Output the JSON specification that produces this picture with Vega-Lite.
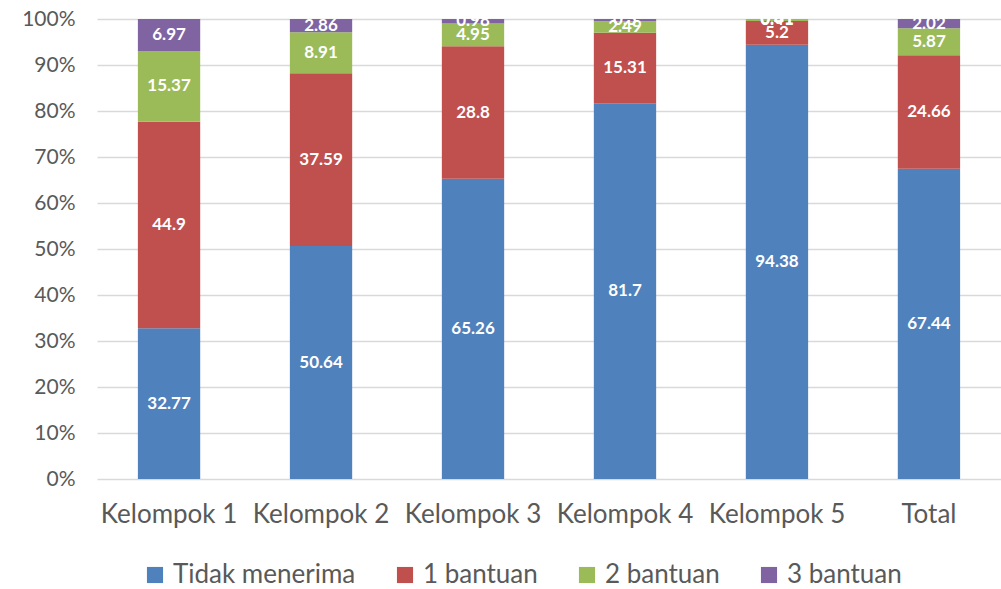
{
  "$schema": "https://vega.github.io/schema/vega-lite/v6.json",
  "autosize": "none",
  "width": 904,
  "height": 460,
  "padding": {"left": 97, "top": 19, "right": 0, "bottom": 110},
  "background": "white",
  "config": {"view": {"stroke": null}, "font": "Lato"},
  "data": {"values": [
    {"group": "Kelompok 1", "kat": "Tidak menerima", "ord": 1, "v": 32.77},
    {"group": "Kelompok 1", "kat": "1 bantuan", "ord": 2, "v": 44.9},
    {"group": "Kelompok 1", "kat": "2 bantuan", "ord": 3, "v": 15.37},
    {"group": "Kelompok 1", "kat": "3 bantuan", "ord": 4, "v": 6.97},
    {"group": "Kelompok 2", "kat": "Tidak menerima", "ord": 1, "v": 50.64},
    {"group": "Kelompok 2", "kat": "1 bantuan", "ord": 2, "v": 37.59},
    {"group": "Kelompok 2", "kat": "2 bantuan", "ord": 3, "v": 8.91},
    {"group": "Kelompok 2", "kat": "3 bantuan", "ord": 4, "v": 2.86},
    {"group": "Kelompok 3", "kat": "Tidak menerima", "ord": 1, "v": 65.26},
    {"group": "Kelompok 3", "kat": "1 bantuan", "ord": 2, "v": 28.8},
    {"group": "Kelompok 3", "kat": "2 bantuan", "ord": 3, "v": 4.95},
    {"group": "Kelompok 3", "kat": "3 bantuan", "ord": 4, "v": 0.98},
    {"group": "Kelompok 4", "kat": "Tidak menerima", "ord": 1, "v": 81.7},
    {"group": "Kelompok 4", "kat": "1 bantuan", "ord": 2, "v": 15.31},
    {"group": "Kelompok 4", "kat": "2 bantuan", "ord": 3, "v": 2.49},
    {"group": "Kelompok 4", "kat": "3 bantuan", "ord": 4, "v": 0.5},
    {"group": "Kelompok 5", "kat": "Tidak menerima", "ord": 1, "v": 94.38},
    {"group": "Kelompok 5", "kat": "1 bantuan", "ord": 2, "v": 5.2},
    {"group": "Kelompok 5", "kat": "2 bantuan", "ord": 3, "v": 0.41},
    {"group": "Kelompok 5", "kat": "3 bantuan", "ord": 4, "v": 0.01},
    {"group": "Total", "kat": "Tidak menerima", "ord": 1, "v": 67.44},
    {"group": "Total", "kat": "1 bantuan", "ord": 2, "v": 24.66},
    {"group": "Total", "kat": "2 bantuan", "ord": 3, "v": 5.87},
    {"group": "Total", "kat": "3 bantuan", "ord": 4, "v": 2.02}
  ]},
  "encoding": {
    "x": {
      "field": "group", "type": "nominal", "sort": null,
      "scale": {"paddingInner": 0.59, "paddingOuter": 0.269},
      "axis": {"title": null, "labelAngle": 0, "labelFontSize": 26, "labelColor": "#595959", "labelPadding": 22, "labelLimit": 300, "ticks": false, "domain": false}
    },
    "y": {
      "field": "v", "type": "quantitative", "stack": "normalize",
      "scale": {"domain": [0, 1]},
      "axis": {"title": null, "format": ".0%", "values": [0,0.1,0.2,0.3,0.4,0.5,0.6,0.7,0.8,0.9,1], "labelOverlap": false, "labelFontSize": 21, "labelColor": "#595959", "labelPadding": 22, "ticks": false, "domain": false, "gridColor": "#d9d9d9", "gridWidth": 1.3}
    },
    "order": {"field": "ord", "type": "quantitative"}
  },
  "layer": [
    {
      "mark": {"type": "bar"},
      "encoding": {
        "color": {
          "field": "kat", "type": "nominal",
          "scale": {"domain": ["Tidak menerima", "1 bantuan", "2 bantuan", "3 bantuan"], "range": ["#4f81bd", "#c0504d", "#9bbb59", "#8064a2"]},
          "legend": {"title": null, "orient": "none", "legendX": 45, "legendY": 543, "direction": "horizontal", "symbolType": "square", "symbolSize": 260, "symbolStrokeWidth": 0, "labelFontSize": 26, "labelLimit": 400, "labelColor": "#595959", "columnPadding": 36, "labelOffset": 5}
        }
      }
    },
    {
      "mark": {"type": "text", "color": "white", "fontWeight": "bold", "fontSize": 17, "baseline": "middle"},
      "encoding": {
        "y": {"field": "v", "type": "quantitative", "stack": "normalize", "bandPosition": 0.5},
        "text": {"field": "v", "type": "quantitative"}
      }
    }
  ]
}
